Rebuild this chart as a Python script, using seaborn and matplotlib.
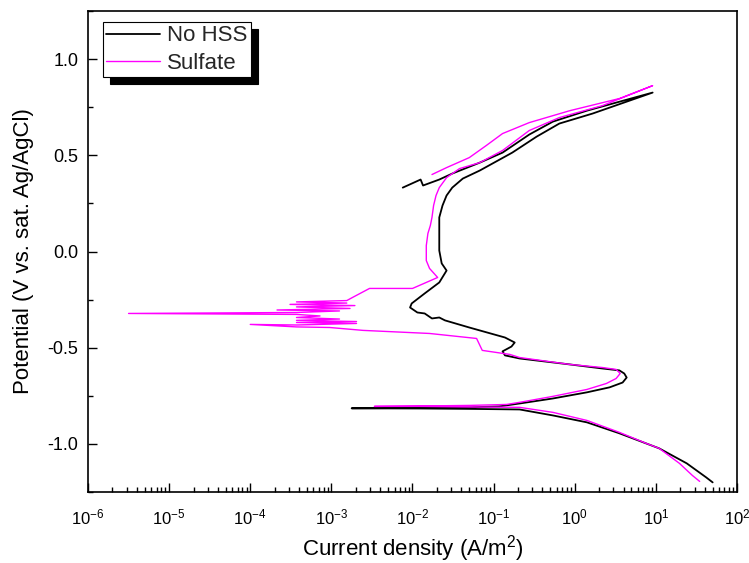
import numpy as np
import pandas as pd
import matplotlib
matplotlib.use("Agg")
import matplotlib.pyplot as plt
import seaborn as sns
from matplotlib.ticker import LogLocator, LogFormatterMathtext, MultipleLocator, FixedLocator, NullFormatter

# ---------------- data ----------------
series_names = ["No HSS", "Sulfate"]
series_colors = ["#000000", "#FF00FF"]

# log10 of current density (A/m^2) and potential (V vs. sat. Ag/AgCl), in scan order
nohss_log_current = [
    1.70, 1.62, 1.38, 1.04, 0.55, 0.15, -0.27, -0.68, -1.30, -1.91, -2.75,
    -1.91, -1.30, -0.93, -0.68, -0.27, 0.15, 0.43, 0.59, 0.64, 0.61, 0.55, 0.34,
    -0.06, -0.68, -0.86, -0.89, -0.78, -0.74, -0.86, -1.30, -1.60, -1.67, -1.76,
    -1.85, -1.94, -2.03, -2.01, -1.85, -1.67, -1.58, -1.64, -1.67, -1.67, -1.67,
    -1.63, -1.58, -1.51, -1.38, -1.17, -0.77, -0.47, -0.19, 0.22, 0.96,
    0.15, -0.27, -0.56, -0.89, -1.17, -1.51, -1.67, -1.87, -1.90, -2.12,
]
nohss_potential = [
    -1.200, -1.174, -1.101, -1.023, -0.945, -0.888, -0.852, -0.821, -0.818, -0.816, -0.815,
    -0.813, -0.810, -0.805, -0.790, -0.764, -0.732, -0.706, -0.681, -0.655, -0.634, -0.618, -0.608,
    -0.587, -0.556, -0.540, -0.519, -0.494, -0.473, -0.447, -0.395, -0.358, -0.343, -0.348,
    -0.322, -0.317, -0.291, -0.270, -0.218, -0.161, -0.099, -0.062, 0.005, 0.094, 0.177,
    0.239, 0.291, 0.332, 0.379, 0.421, 0.514, 0.597, 0.665, 0.717, 0.826,
    0.732, 0.675, 0.608, 0.514, 0.462, 0.405, 0.374, 0.343, 0.374, 0.332,
]

sulfate_log_current = [
    1.54, 1.45, 1.29, 1.04, 0.88, 0.55, 0.15, -0.27, -0.68, -1.30, -1.91, -2.47,
    -1.91, -1.30, -0.84, -0.68, -0.27, 0.15, 0.39, 0.51, 0.56, 0.51, 0.34, -0.06,
    -0.68, -0.80, -1.14, -1.21, -1.79, -2.61, -3.02,
    -3.43, -4.00, -3.43, -2.69, -3.43, -2.69, -3.43, -2.90, -3.43, -3.14, -3.43,
    -5.50, -3.43, -2.90, -3.67, -2.77, -3.43, -2.71, -3.51, -2.81, -3.43, -2.81,
    -2.74, -2.53, -2.00, -1.69, -1.79, -1.83, -1.83, -1.81, -1.78, -1.76, -1.74,
    -1.71, -1.67, -1.58, -1.42, -1.17, -0.89, -0.56, -0.19, 0.34, 0.96,
    0.55, -0.06, -0.56, -0.89, -1.09, -1.30, -1.58, -1.76,
]
sulfate_potential = [
    -1.195, -1.164, -1.101, -1.023, -0.997, -0.940, -0.878, -0.836, -0.810, -0.808, -0.805, -0.805,
    -0.803, -0.800, -0.795, -0.784, -0.753, -0.717, -0.686, -0.660, -0.634, -0.613, -0.603, -0.587,
    -0.551, -0.535, -0.514, -0.452, -0.426, -0.410, -0.395,
    -0.392, -0.379, -0.382, -0.374, -0.369, -0.364, -0.358, -0.351, -0.343, -0.335, -0.327,
    -0.322, -0.317, -0.309, -0.304, -0.296, -0.288, -0.281, -0.275, -0.268, -0.262, -0.255,
    -0.239, -0.192, -0.192, -0.135, -0.088, -0.047, 0.031, 0.094, 0.135, 0.177, 0.239,
    0.291, 0.332, 0.384, 0.431, 0.462, 0.525, 0.629, 0.696, 0.758, 0.862,
    0.795, 0.732, 0.670, 0.613, 0.551, 0.488, 0.436, 0.400,
]

x_major_ticks = [1e-6, 1e-5, 1e-4, 1e-3, 1e-2, 1e-1, 1e0, 1e1, 1e2]
y_major_ticks = [-1.0, -0.5, 0.0, 0.5, 1.0]
y_tick_labels = ["-1.0", "-0.5", "0.0", "0.5", "1.0"]
x_label = "Current density (A/m$^2$)"
y_label = "Potential (V vs. sat. Ag/AgCl)"

# ---------------- style ----------------
sns.set_theme(style="ticks")
plt.rcParams["font.family"] = ["Liberation Sans", "DejaVu Sans"]
plt.rcParams["mathtext.fontset"] = "custom"
plt.rcParams["mathtext.rm"] = "Liberation Sans"
plt.rcParams["mathtext.it"] = "Liberation Sans:italic"
plt.rcParams["mathtext.bf"] = "Liberation Sans:bold"
plt.rcParams["axes.unicode_minus"] = False

frames = []
for name, lc, pot in [
    (series_names[0], nohss_log_current, nohss_potential),
    (series_names[1], sulfate_log_current, sulfate_potential),
]:
    frames.append(pd.DataFrame({
        "current": np.power(10.0, np.array(lc)),
        "potential": np.array(pot),
        "series": name,
    }))
df = pd.concat(frames, ignore_index=True)

fig = plt.figure(figsize=(7.49, 5.63), dpi=100)
ax = fig.add_axes([88 / 749, 1 - 492 / 563, (737 - 88) / 749, (492 - 11) / 563])
ax.set_xscale("log")

line_widths = [1.3, 1.0]
for name, color, lw in zip(series_names, series_colors, line_widths):
    sns.lineplot(data=df[df["series"] == name], x="current", y="potential",
                 sort=False, estimator=None, color=color, linewidth=lw,
                 label=name, ax=ax)

ax.set_xlim(1e-6, 1e2)
ax.set_ylim(-1.25, 1.25)

ax.xaxis.set_major_locator(FixedLocator(x_major_ticks))
ax.xaxis.set_major_formatter(LogFormatterMathtext())
ax.xaxis.set_minor_locator(LogLocator(base=10, subs=np.arange(2, 10), numticks=100))
ax.xaxis.set_minor_formatter(NullFormatter())
ax.yaxis.set_major_locator(FixedLocator(y_major_ticks))
ax.set_yticklabels(y_tick_labels)
ax.yaxis.set_minor_locator(MultipleLocator(0.25))

ax.tick_params(which="both", direction="in", top=False, right=False,
               width=1.0, color="black", labelcolor="black")
ax.tick_params(which="major", length=6.5)
ax.tick_params(axis="y", which="major", labelsize=13, pad=7)
ax.tick_params(axis="x", which="major", labelsize=12, pad=11)
ax.tick_params(which="minor", length=3.5)
for s in ax.spines.values():
    s.set_linewidth(1.2)
    s.set_color("black")

ax.set_xlabel(x_label, fontsize=16, labelpad=4, color="black")
ax.set_ylabel(y_label, fontsize=16, labelpad=10, color="black")

leg = ax.legend(loc="upper left", bbox_to_anchor=(0.023, 0.977), borderaxespad=0,
                fontsize=16, frameon=True, fancybox=False,
                shadow={"facecolor": "black", "edgecolor": "black", "alpha": 1, "ox": 5, "oy": -5},
                edgecolor="black", framealpha=1, handlelength=2.4, handletextpad=0.35,
                borderpad=0.15, labelspacing=0.3)
leg.get_frame().set_linewidth(0.8)

fig.savefig("out.png", dpi=100)
